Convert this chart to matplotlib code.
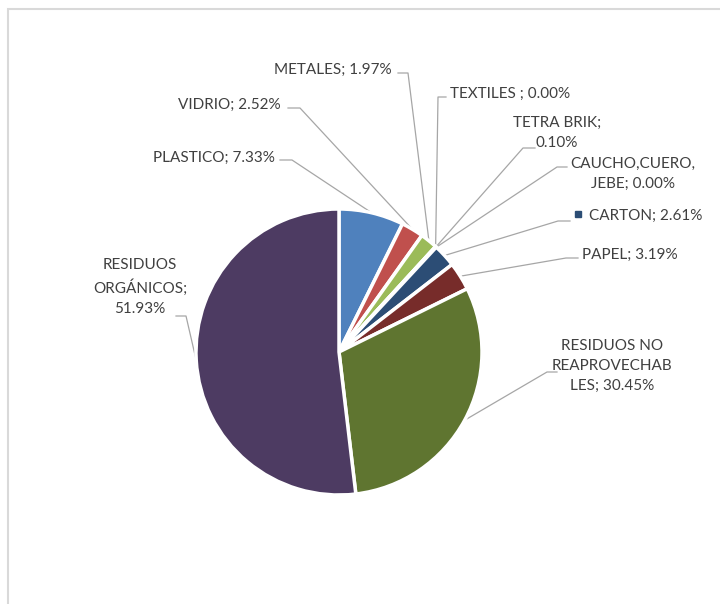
import numpy as np
import matplotlib.pyplot as plt
from matplotlib.patches import Rectangle

plt.rcParams['font.family'] = ['Lato', 'DejaVu Sans']

categories = ["PLASTICO", "VIDRIO", "METALES", "TEXTILES ", "TETRA BRIK",
              "CAUCHO,CUERO, JEBE", "CARTON", "PAPEL",
              "RESIDUOS NO REAPROVECHABLES", "RESIDUOS ORGÁNICOS"]
values = [7.33, 2.52, 1.97, 0.00, 0.10, 0.00, 2.61, 3.19, 30.45, 51.93]
label_texts = ["PLASTICO; 7.33%", "VIDRIO; 2.52%", "METALES; 1.97%",
               "TEXTILES ; 0.00%", "TETRA BRIK;\n0.10%",
               "CAUCHO,CUERO,\nJEBE; 0.00%", "CARTON; 2.61%", "PAPEL; 3.19%",
               "RESIDUOS NO\nREAPROVECHAB\nLES; 30.45%",
               "RESIDUOS\nORGÁNICOS;\n51.93%"]
colors = ["#4F81BD", "#C0504D", "#9BBB59", "#8064A2", "#4BACC6", "#F79646",
          "#2C4D75", "#772C2A", "#5F7530", "#4D3B62"]

W, H = 720, 604
cx, cy, r = 339, 352, 143

# label centre (pixels, y down) and leader elbow (start, end)
label_pos = [(214, 158), (229, 105), (333, 70), (510, 94), (557, 133),
             (633, 174), (646, 216), (630, 255), (612, 366), (140, 287)]
elbows = [((280, 160), (292, 160)), ((288, 108), (300, 108)),
          ((398, 73), (408, 73)), ((446, 97), (438, 97)),
          ((535, 148), (523, 148)), ((567, 167), (557, 167)),
          ((570, 221), (558, 221)), ((578, 258), (566, 258)),
          ((557, 372), (547, 372)), ((176, 316), (186, 316))]


def P(x, y):
    return x, H - y


fig = plt.figure(figsize=(W / 100, H / 100), dpi=100)
ax = fig.add_axes([0, 0, 1, 1])

wedges, _ = ax.pie(values, colors=colors, startangle=90, counterclock=False,
                   center=P(cx, cy), radius=r,
                   wedgeprops=dict(edgecolor="white", linewidth=2.5))
ax.set_xlim(0, W)
ax.set_ylim(0, H)
ax.set_aspect("equal")
ax.axis("off")

# chart frame
ax.add_patch(Rectangle(P(8, H + 20), W + 20, H + 11, fill=False,
                       edgecolor="#D9D9D9", linewidth=1.5))

for w, txt, pos, (e0, e1) in zip(wedges, label_texts, label_pos, elbows):
    th = np.deg2rad((w.theta1 + w.theta2) / 2)
    px = w.center[0] + r * np.cos(th)
    py = w.center[1] + r * np.sin(th)
    xs = [e0[0], e1[0], px]
    ys = [H - e0[1], H - e1[1], py]
    ax.plot(xs, ys, color="#A6A6A6", linewidth=0.9, zorder=0)
    ax.text(*P(*pos), txt, ha="center", va="center", fontsize=11,
            color="#404040", linespacing=1.55)

# legend key next to CARTON label
ax.plot(*P(578, 214), marker="s", markersize=4, color=colors[6])

fig.savefig("out.png", dpi=100)
